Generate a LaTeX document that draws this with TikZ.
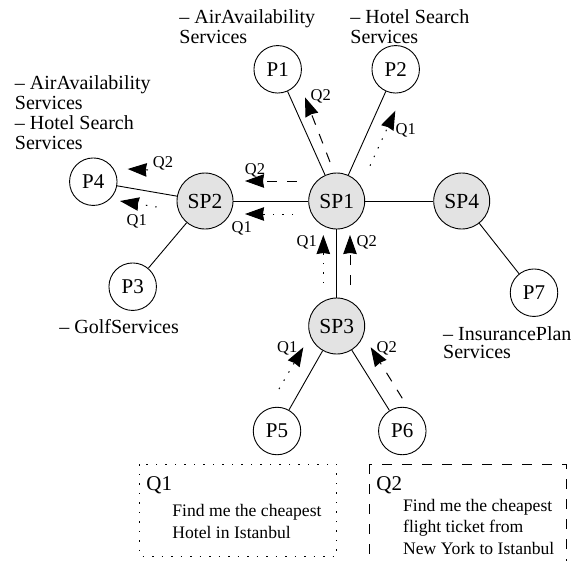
\documentclass[tikz,border=0pt]{standalone}
\usepackage{fontspec}
\setmainfont{Liberation Serif}
\usetikzlibrary{arrows.meta}
\tikzset{
  peer/.style={circle,draw,minimum size=47.5pt,inner sep=0pt,font=\fontsize{21}{21}\selectfont},
  super/.style={circle,draw,fill=black!11,minimum size=56pt,inner sep=0pt,font=\fontsize{21.5}{21.5}\selectfont},
  link/.style={draw,line width=0.9pt},
  qdot/.style={draw,line width=1pt,dash pattern=on 1.5pt off 8pt,-{Stealth[length=19pt,width=13.5pt,inset=1pt]}},
  qdash/.style={draw,line width=1pt,dash pattern=on 10pt off 10pt,-{Stealth[length=19pt,width=13.5pt,inset=1pt]}},
  qlabel/.style={inner sep=0pt,font=\fontsize{16.5}{16.5}\selectfont},
  svc/.style={anchor=north west,inner sep=0pt,align=left,font=\fontsize{20}{20}\selectfont},
  boxtitle/.style={anchor=base west,inner sep=0pt,font=\fontsize{21}{21}\selectfont},
  boxbody/.style={anchor=north west,inner sep=0pt,align=left,font=\fontsize{17.6}{21.5}\selectfont},
  framedot/.style={draw,line width=1pt,dash pattern=on 1.5pt off 8pt},
  framedash/.style={draw,line width=1pt,dash pattern=on 10pt off 10pt},
}
\begin{document}
\begin{tikzpicture}[x=1pt,y=-1pt,line width=0.9pt]
\useasboundingbox (0,0) rectangle (581,560);
\clip (0,0) rectangle (581,560);
% nodes
\node[super] (SP1) at (336.7,201) {SP1};
\node[super] (SP2) at (205,201) {SP2};
\node[super] (SP3) at (336.7,326) {SP3};
\node[super] (SP4) at (461.7,201) {SP4};
\node[peer] (P1) at (277.7,69.3) {P1};
\node[peer] (P2) at (395.7,69.3) {P2};
\node[peer] (P3) at (132.7,286.7) {P3};
\node[peer] (P4) at (93.3,181.7) {P4};
\node[peer] (P5) at (277,431) {P5};
\node[peer] (P6) at (402.3,431) {P6};
\node[peer] (P7) at (534,292.7) {P7};
% links
\draw[link] (SP1) -- (P1);
\draw[link] (SP1) -- (P2);
\draw[link] (SP1) -- (SP2);
\draw[link] (SP1) -- (SP3);
\draw[link] (SP1) -- (SP4);
\draw[link] (SP2) -- (P3);
\draw[link] (SP2) -- (P4);
\draw[link] (SP3) -- (P5);
\draw[link] (SP3) -- (P6);
\draw[link] (SP4) -- (P7);
% query arrow ends
\coordinate (a1s) at (330,162);     \coordinate (a1e) at (305,97.3);
\coordinate (a2s) at (370,165.7);   \coordinate (a2e) at (395.3,110.7);
\coordinate (a3s) at (148,170);     \coordinate (a3e) at (127.7,169);
\coordinate (a4s) at (156.7,207);   \coordinate (a4e) at (120,201);
\coordinate (a5s) at (296.7,181);   \coordinate (a5e) at (245,181);
\coordinate (a6s) at (293,214);     \coordinate (a6e) at (245,214);
\coordinate (a7s) at (323.3,283);   \coordinate (a7e) at (323.3,235);
\coordinate (a8s) at (350,285);     \coordinate (a8e) at (350,235);
\coordinate (a9s) at (279,389);     \coordinate (a9e) at (303.3,347.3);
\coordinate (a10s) at (402.3,398.3);\coordinate (a10e) at (370.7,347.3);
\path[qdash] (a1s) -- (a1e);
\path[qdot] (a2s) -- (a2e);
\path[qdash] (a3s) -- (a3e);
\path[qdot] (a4s) -- (a4e);
\path[qdash] (a5s) -- (a5e);
\path[qdot] (a6s) -- (a6e);
\path[qdot] (a7s) -- (a7e);
\path[qdash] (a8s) -- (a8e);
\path[qdot] (a9s) -- (a9e);
\path[qdash] (a10s) -- (a10e);
% query labels
\node[qlabel] (l1) at (320.7,96.7) {Q2};
\node[qlabel] (l2) at (405.7,130) {Q1};
\node[qlabel] (l3) at (163,163) {Q2};
\node[qlabel] (l4) at (136.7,221.7) {Q1};
\node[qlabel] (l5) at (255,170) {Q2};
\node[qlabel] (l6) at (241.7,228) {Q1};
\node[qlabel] (l7) at (306.7,242.7) {Q1};
\node[qlabel] (l8) at (366.7,242.7) {Q2};
\node[qlabel] (l9) at (287.3,348.3) {Q1};
\node[qlabel] (l10) at (386.7,348.3) {Q2};
% service labels
\node[svc] (s1) at (179,9) {-- AirAvailability\\Services};
\node[svc] (s2) at (350,9) {-- Hotel Search\\Services};
\node[svc] (s3) at (14.5,75) {-- AirAvailability\\Services\\-- Hotel Search\\Services};
\node[svc] (s4) at (59,319) {-- GolfServices};
\node[svc] (s5) at (442.7,326) {-- InsurancePlan\\[-2pt]Services};
% query boxes
\coordinate (b1a) at (139.3,464.3); \coordinate (b1b) at (336.7,556);
\coordinate (b2a) at (369.3,464.3); \coordinate (b2b) at (566.7,568);
\path[framedot] (b1a) rectangle (b1b);
\path[framedash] (b2a) rectangle (b2b);
\node[boxtitle] (t1) at (146,490) {Q1};
\node[boxtitle] (t2) at (376,490) {Q2};
\node[boxbody] (d1) at (172,504) {Find me the cheapest\\Hotel in Istanbul};
\node[boxbody] (d2) at (402.7,498.5) {Find me the cheapest\\flight ticket from\\New York to Istanbul};
\end{tikzpicture}
\end{document}
